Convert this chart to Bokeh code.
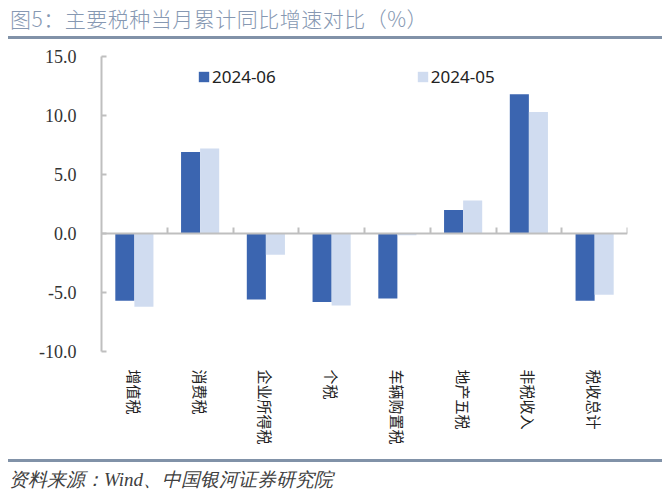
import math
from bokeh.plotting import figure
from bokeh.layouts import column
from bokeh.models import (Range1d, FixedTicker, Legend, Div,
                          LegendItem, ColumnDataSource, LinearAxis, NumeralTickFormatter)
from bokeh.embed import file_html
from bokeh.resources import INLINE

categories = ["增值税", "消费税", "企业所得税", "个税", "车辆购置税", "地产五税", "非税收入", "税收总计"]
series_names = ["2024-06", "2024-05"]
values_2024_06 = [-5.7, 6.9, -5.6, -5.8, -5.5, 2.0, 11.8, -5.7]
values_2024_05 = [-6.2, 7.2, -1.8, -6.1, -0.15, 2.8, 10.3, -5.2]
y_ticks = [-10, -5, 0, 5, 10, 15]
title_text = "图5：主要税种当月累计同比增速对比（%）"
source_text = "资料来源：Wind、中国银河证券研究院"

DARK = "#3B65B0"
LIGHT = "#D0DCF0"
AXIS = "#BFBFBF"
RULE = "#8192A8"

n = len(categories)
centers = [i + 0.5 for i in range(n)]
bar_w = 0.29

src = ColumnDataSource(dict(
    x06=[c - bar_w / 2 for c in centers],
    x05=[c + bar_w / 2 for c in centers],
    v06=values_2024_06,
    v05=values_2024_05,
))

W = 670
TOP_H = 40      # title block height
BOT_H = 38      # source block height
PH = 497 - TOP_H - BOT_H  # figure height
FL, FT, FR, FB = 101, 56, 627, 351  # frame edges in page pixels

p = figure(width=W, height=PH, output_backend="svg", toolbar_location=None,
           x_range=Range1d(0, n), y_range=Range1d(y_ticks[0], y_ticks[-1]),
           min_border_left=FL, min_border_right=W - FR, min_border_top=FT - TOP_H,
           min_border_bottom=TOP_H + PH - FB, margin=0)
p.outline_line_color = None
p.xgrid.visible = False
p.ygrid.visible = False
p.background_fill_color = "white"

r06 = p.vbar(x="x06", top="v06", bottom=0, width=bar_w, source=src,
             fill_color=DARK, line_color=None)
r05 = p.vbar(x="x05", top="v05", bottom=0, width=bar_w, source=src,
             fill_color=LIGHT, line_color=None)

# y axis
ya = p.yaxis[0]
ya.ticker = FixedTicker(ticks=y_ticks)
ya.formatter = NumeralTickFormatter(format="0.0")
ya.axis_line_color = AXIS
ya.axis_line_width = 2
ya.major_tick_line_color = AXIS
ya.major_tick_line_width = 2
ya.major_tick_in = 5
ya.major_tick_out = 0
ya.minor_tick_line_color = None
ya.major_label_standoff = 25
ya.major_label_text_font = "Liberation Serif"
ya.major_label_text_font_size = "18px"
ya.major_label_text_color = "#333333"

# x axis with labels at bottom
xa = p.xaxis[0]
xa.ticker = FixedTicker(ticks=centers)
xa.major_label_overrides = {c: cat for c, cat in zip(centers, categories)}
xa.major_label_orientation = -math.pi / 2
xa.axis_line_color = None
xa.major_tick_line_color = None
xa.minor_tick_line_color = None
xa.major_tick_in = 0
xa.major_tick_out = 0
xa.major_label_standoff = 18
xa.major_label_text_font = "Noto Sans CJK SC"
xa.major_label_text_font_size = "15px"
xa.major_label_text_color = "#222222"

# zero-line axis with boundary ticks
za = LinearAxis(fixed_location=0, ticker=FixedTicker(ticks=list(range(1, n + 1))))
za.axis_line_color = AXIS
za.axis_line_width = 2
za.major_tick_line_color = AXIS
za.major_tick_line_width = 2
za.major_tick_in = 6
za.major_tick_out = 0
za.minor_tick_line_color = None
za.major_label_text_font_size = "0px"
za.major_label_text_color = None
p.add_layout(za, "below")

legend = Legend(items=[LegendItem(label=series_names[0], renderers=[r06]),
                       LegendItem(label=series_names[1], renderers=[r05])],
                orientation="horizontal", location=(96, 263))
legend.border_line_color = None
legend.background_fill_alpha = 0
legend.padding = 0
legend.margin = 0
legend.spacing = 140
legend.glyph_width = 13
legend.glyph_height = 13
legend.label_standoff = 2
legend.label_text_font = "Noto Sans"
legend.label_text_font_size = "17px"
legend.label_text_color = "#222222"
legend.label_height = 20
p.add_layout(legend, "center")

title_html = (
    f'<div style="position:relative;width:{W}px;height:{TOP_H}px;margin:0;padding:0;">'
    f'<span style="position:absolute;left:10px;top:4px;white-space:nowrap;letter-spacing:0.5px;'
    f'font-family:\'Noto Sans CJK SC\';font-weight:300;font-size:21px;line-height:28px;color:#8698B2;">'
    f'{title_text}</span>'
    f'<div style="position:absolute;left:8px;top:36px;width:654px;height:3px;background:{RULE};"></div>'
    f'</div>'
)
source_html = (
    f'<div style="position:relative;width:{W}px;height:{BOT_H}px;margin:0;padding:0;">'
    f'<div style="position:absolute;left:8px;top:0px;width:654px;height:3px;background:{RULE};"></div>'
    f'<span style="position:absolute;left:9px;top:9px;white-space:nowrap;'
    f'font-family:\'Liberation Serif\',serif;font-style:italic;font-size:19px;line-height:24px;color:#404040;">'
    f'{source_text}</span>'
    f'</div>'
)
title_div = Div(text=title_html, width=W, height=TOP_H, margin=0)
source_div = Div(text=source_html, width=W, height=BOT_H, margin=0)

layout = column(title_div, p, source_div, spacing=0, margin=0)

open("out.html", "w").write(file_html(layout, INLINE))
